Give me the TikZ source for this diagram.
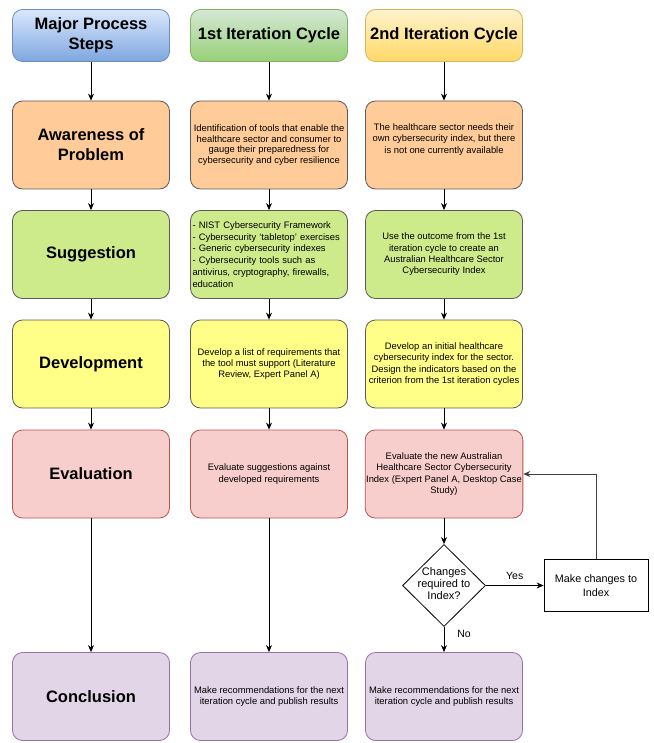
\documentclass[tikz,border=0pt]{standalone}
\usepackage{fontspec}
\setmainfont{Liberation Sans}
\usetikzlibrary{shapes.geometric, arrows.meta}
\definecolor{blueT}{HTML}{DAE8FC}
\definecolor{blueB}{HTML}{7EA6E0}
\definecolor{blueD}{HTML}{6C8EBF}
\definecolor{greenT}{HTML}{D5E8D4}
\definecolor{greenB}{HTML}{97D077}
\definecolor{greenD}{HTML}{82B366}
\definecolor{yelT}{HTML}{FFF2CC}
\definecolor{yelB}{HTML}{FFD966}
\definecolor{yelD}{HTML}{D6B656}
\definecolor{awFill}{HTML}{FFCC99}
\definecolor{sgFill}{HTML}{CDEB8B}
\definecolor{dvFill}{HTML}{FFFF88}
\definecolor{evFill}{HTML}{F8CECC}
\definecolor{evDraw}{HTML}{B85450}
\definecolor{cnFill}{HTML}{E1D5E7}
\definecolor{cnDraw}{HTML}{9673A6}
\definecolor{grayDraw}{HTML}{5A5A5A}
\begin{document}
\begin{tikzpicture}[x=1pt,y=-1pt,
  box/.style={rounded corners=10pt, minimum width=157pt, minimum height=88pt,
    inner sep=1pt, align=center, font=\fontsize{9.4}{11.3}\selectfont, line width=0.8pt},
  head/.style={box, minimum height=52pt, font=\fontsize{16.5}{19.8}\selectfont\bfseries},
  stepbox/.style={box, font=\fontsize{16.5}{19.8}\selectfont\bfseries},
  aw/.style={fill=awFill, draw=grayDraw},
  sg/.style={fill=sgFill, draw=grayDraw},
  dv/.style={fill=dvFill, draw=grayDraw},
  ev/.style={fill=evFill, draw=evDraw},
  cn/.style={fill=cnFill, draw=cnDraw},
  arr/.style={-{Stealth[length=7pt,width=6pt]}, line width=0.8pt, draw=black},
  lbl/.style={font=\fontsize{10.5}{12.6}\selectfont, inner sep=1pt}
]
\useasboundingbox (0,0) rectangle (653,743);

% headers
\node[head, top color=blueT, bottom color=blueB, draw=blueD] (h1) at (91,35.5) {Major Process\\Steps};
\node[head, top color=greenT, bottom color=greenB, draw=greenD] (h2) at (269,35.5) {1st Iteration Cycle};
\node[head, top color=yelT, bottom color=yelB, draw=yelD] (h3) at (444,35.5) {2nd Iteration Cycle};

% column 1
\node[stepbox, aw] (a1) at (91,145) {Awareness of\\Problem};
\node[stepbox, sg] (s1) at (91,254.5) {Suggestion};
\node[stepbox, dv] (d1) at (91,364) {Development};
\node[stepbox, ev] (e1) at (91,474) {Evaluation};
\node[stepbox, cn] (c1) at (91,696.5) {Conclusion};

% column 2
\node[box, aw, font=\fontsize{9.4}{10.8}\selectfont] (a2) at (269,145) {Identification of tools that enable the\\healthcare sector and consumer to\\gauge their preparedness for\\cybersecurity and cyber resilience};
\node[box, sg, align=left, text width=153pt, font=\fontsize{9.4}{11.8}\selectfont] (s2) at (269,254.5) {- NIST Cybersecurity Framework\\- Cybersecurity ‘tabletop’ exercises\\- Generic cybersecurity indexes\\- Cybersecurity tools such as\\antivirus, cryptography, firewalls,\\education};
\node[box, dv] (d2) at (269,364) {Develop a list of requirements that\\the tool must support (Literature\\Review, Expert Panel A)};
\node[box, ev] (e2) at (269,474) {Evaluate suggestions against\\developed requirements};
\node[box, cn] (c2) at (269,696.5) {Make recommendations for the next\\iteration cycle and publish results};

% column 3
\node[box, aw] (a3) at (444,145) {The healthcare sector needs their\\own cybersecurity index, but there\\is not one currently available\\[2pt]};
\node[box, sg] (s3) at (444,254.5) {Use the outcome from the 1st\\iteration cycle to create an\\Australian Healthcare Sector\\Cybersecurity Index};
\node[box, dv] (d3) at (444,364) {Develop an initial healthcare\\cybersecurity index for the sector.\\Design the indicators based on the\\criterion from the 1st iteration cycles};
\node[box, ev] (e3) at (444,474) {Evaluate the new Australian\\Healthcare Sector Cybersecurity\\Index (Expert Panel A, Desktop Case\\Study)};
\node[box, cn] (c3) at (444,696.5) {Make recommendations for the next\\iteration cycle and publish results};

% decision
\node[diamond, draw=black, line width=0.8pt, fill=white, minimum width=83pt, minimum height=82pt, inner sep=0pt] (dia) at (444,585.5) {};
\node[font=\fontsize{11}{12.3}\selectfont, align=center, inner sep=0pt] (diat) at ([yshift=2pt]dia.center) {Changes\\required to\\Index?};
\node[draw=black, line width=0.8pt, fill=white, minimum width=104pt, minimum height=52pt, font=\fontsize{10.8}{13.5}\selectfont, align=center] (mk) at (596,585.5) {Make changes to\\Index};

% arrows
\foreach \c in {1,2,3}{
  \draw[arr] (h\c.south) -- (a\c.north);
  \draw[arr] (a\c.south) -- (s\c.north);
  \draw[arr] (s\c.south) -- (d\c.north);
  \draw[arr] (d\c.south) -- (e\c.north);
}
\draw[arr] (e1.south) -- (c1.north);
\draw[arr] (e2.south) -- (c2.north);
\draw[arr] (e3.south) -- (dia.north);
\draw[arr] (dia.south) -- node[lbl, pos=0.27, right=12pt] {No} (c3.north);
\draw[arr] (dia.east) -- node[lbl, midway, above=5pt] {Yes} (mk.west);
\draw[arr, draw=black!75] (mk.north) |- (e3.east);
\end{tikzpicture}
\end{document}
